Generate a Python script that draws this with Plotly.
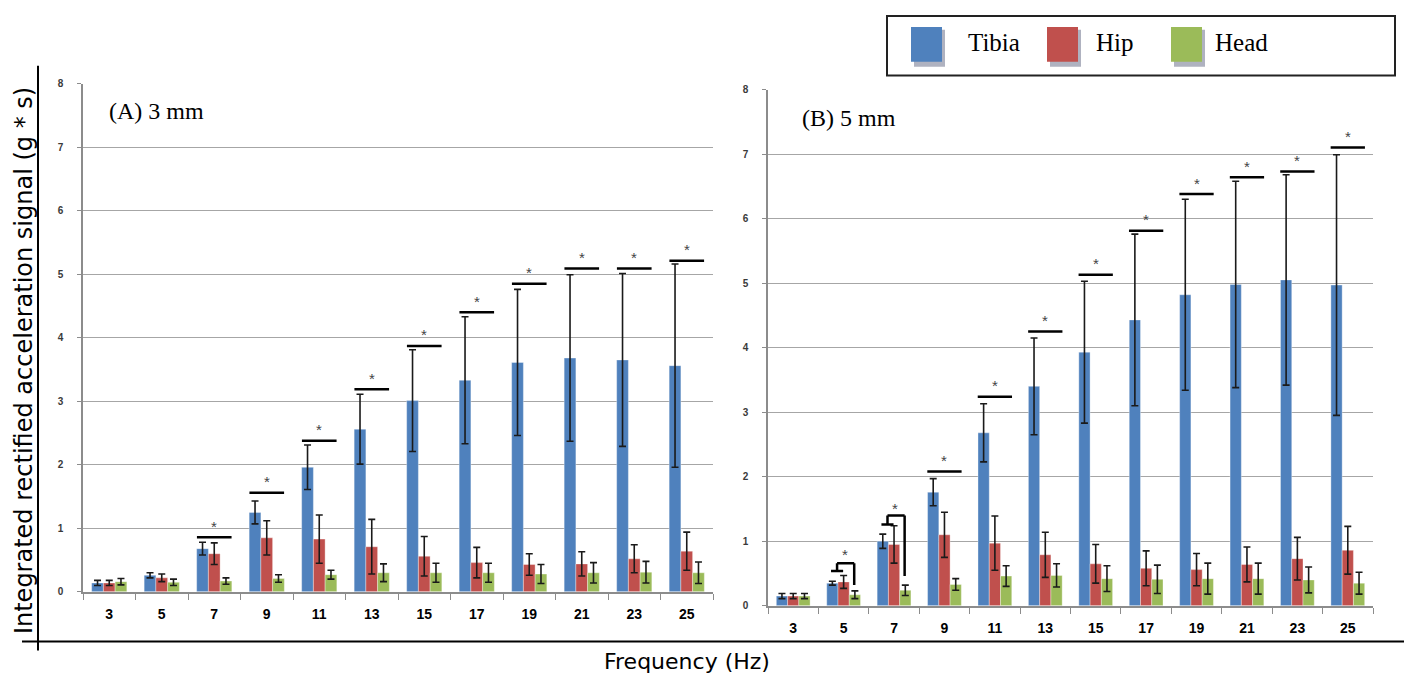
import plotly.graph_objects as go

W, H = 1411, 674
VS = 0.989  # vertical scale observed between the figure and the captured page

freqs = ["3", "5", "7", "9", "11", "13", "15", "17", "19", "21", "23", "25"]

# (A) 3 mm
a_tibia = [0.14, 0.26, 0.68, 1.25, 1.96, 2.56, 3.01, 3.33, 3.61, 3.68, 3.65, 3.56]
a_tibia_err = [0.04, 0.04, 0.10, 0.18, 0.35, 0.55, 0.80, 1.00, 1.15, 1.31, 1.36, 1.60]
a_hip = [0.14, 0.22, 0.60, 0.85, 0.83, 0.71, 0.56, 0.46, 0.43, 0.44, 0.52, 0.64]
a_hip_err = [0.04, 0.06, 0.17, 0.27, 0.38, 0.43, 0.31, 0.24, 0.17, 0.19, 0.22, 0.30]
a_head = [0.16, 0.15, 0.17, 0.21, 0.27, 0.30, 0.30, 0.30, 0.28, 0.30, 0.31, 0.30]
a_head_err = [0.05, 0.05, 0.05, 0.06, 0.07, 0.14, 0.15, 0.15, 0.15, 0.16, 0.17, 0.17]
a_sig_idx = [2, 3, 4, 5, 6, 7, 8, 9, 10, 11]
a_sig_y = [0.86, 1.56, 2.38, 3.19, 3.87, 4.40, 4.85, 5.09, 5.09, 5.21]

# (B) 5 mm
b_tibia = [0.15, 0.35, 1.00, 1.76, 2.68, 3.40, 3.93, 4.43, 4.82, 4.98, 5.05, 4.97]
b_tibia_err = [0.04, 0.03, 0.11, 0.21, 0.45, 0.75, 1.10, 1.33, 1.48, 1.60, 1.63, 2.02]
b_hip = [0.15, 0.37, 0.95, 1.10, 0.97, 0.79, 0.65, 0.58, 0.56, 0.64, 0.73, 0.86]
b_hip_err = [0.04, 0.10, 0.29, 0.35, 0.42, 0.35, 0.30, 0.27, 0.25, 0.27, 0.33, 0.37]
b_head = [0.15, 0.17, 0.24, 0.33, 0.46, 0.47, 0.42, 0.41, 0.42, 0.42, 0.40, 0.35]
b_head_err = [0.04, 0.06, 0.08, 0.09, 0.16, 0.18, 0.20, 0.22, 0.24, 0.24, 0.20, 0.17]
b_sig_idx = [3, 4, 5, 6, 7, 8, 9, 10, 11]
b_sig_y = [2.08, 3.24, 4.25, 5.13, 5.81, 6.38, 6.64, 6.73, 7.10]

series_names = ["Tibia", "Hip", "Head"]
colors = ["#4F81BD", "#C0504D", "#9BBB59"]


def px(x):
    return x / W


def py(y):
    return 1 - (y / VS) / H


fig = go.Figure()
panels = [
    ("x", "y", [a_tibia, a_hip, a_head], [a_tibia_err, a_hip_err, a_head_err]),
    ("x2", "y2", [b_tibia, b_hip, b_head], [b_tibia_err, b_hip_err, b_head_err]),
]
for xa, ya, vals, errs in panels:
    for name, col, v, e in zip(series_names, colors, vals, errs):
        fig.add_trace(go.Bar(
            x=freqs, y=v, name=name, xaxis=xa, yaxis=ya, showlegend=False,
            marker=dict(color=col, line=dict(color="rgba(255,255,255,0.35)", width=1)),
            error_y=dict(type="data", array=e, visible=True, color="#1a1a1a",
                         thickness=1.6, width=3.5),
        ))

shapes = []
annotations = []
black_line = dict(color="black", width=2.5)


def seg(xref, yref, x0, y0, x1, y1):
    shapes.append(dict(type="line", xref=xref, yref=yref, x0=x0, y0=y0, x1=x1, y1=y1,
                       line=black_line, layer="above"))


def star(xref, yref, x, y, shift=11):
    annotations.append(dict(xref=xref, yref=yref, x=x, y=y, text="*", showarrow=False,
                            yshift=shift, font=dict(family="Liberation Sans", size=15, color="#444")))


for i, yv in zip(a_sig_idx, a_sig_y):
    seg("x", "y", i - 0.33, yv, i + 0.33, yv)
    star("x", "y", i, yv)
for i, yv in zip(b_sig_idx, b_sig_y):
    seg("x2", "y2", i - 0.34, yv, i + 0.34, yv)
    star("x2", "y2", i, yv)

# brackets in (B) at 5 Hz and 7 Hz
for i, (ya, yb, yc, ys) in [(1, (0.54, 0.66, 0.32, 0.79)), (2, (1.26, 1.40, 0.46, 1.51))]:
    seg("x2", "y2", i - 0.25, ya, i - 0.01, ya)
    seg("x2", "y2", i - 0.13, ya, i - 0.13, yb)
    seg("x2", "y2", i - 0.13, yb, i + 0.21, yb)
    seg("x2", "y2", i + 0.21, yb, i + 0.21, yc)
    annotations.append(dict(xref="x2", yref="y2", x=i + 0.02, y=ys, text="*", showarrow=False,
                            font=dict(family="Liberation Sans", size=15, color="#444")))

# outer frame lines
shapes.append(dict(type="line", xref="paper", yref="paper", x0=px(38), x1=px(38),
                   y0=py(60), y1=py(648), line=dict(color="black", width=2)))
shapes.append(dict(type="line", xref="paper", yref="paper", x0=px(22), x1=px(1404),
                   y0=py(639), y1=py(639), line=dict(color="black", width=2)))

# legend box
shapes.append(dict(type="rect", xref="paper", yref="paper", x0=px(887), x1=px(1395),
                   y0=py(70), y1=py(10), line=dict(color="#222", width=2), fillcolor="white"))
leg_sq = [911, 1047, 1171]
leg_tx = [966, 1094, 1213]
for name, col, sx, tx in zip(series_names, colors, leg_sq, leg_tx):
    shapes.append(dict(type="rect", xref="paper", yref="paper", x0=px(sx + 3), x1=px(sx + 34),
                       y0=py(61), y1=py(24), line=dict(width=0), fillcolor="rgba(110,115,140,0.55)"))
    shapes.append(dict(type="rect", xref="paper", yref="paper", x0=px(sx), x1=px(sx + 31),
                       y0=py(56), y1=py(21), line=dict(width=0), fillcolor=col))
    annotations.append(dict(xref="paper", yref="paper", x=px(tx), y=py(37), xanchor="left",
                            yanchor="middle", text=name, showarrow=False,
                            font=dict(family="Liberation Serif", size=25, color="black")))

# panel labels
annotations.append(dict(xref="paper", yref="paper", x=px(107), y=py(106), xanchor="left",
                        yanchor="middle", text="(A) 3 mm", showarrow=False,
                        font=dict(family="Liberation Serif", size=24, color="black")))
annotations.append(dict(xref="paper", yref="paper", x=px(800), y=py(113), xanchor="left",
                        yanchor="middle", text="(B) 5 mm", showarrow=False,
                        font=dict(family="Liberation Serif", size=24, color="black")))
# axis titles
annotations.append(dict(xref="paper", yref="paper", x=px(687), y=py(659), xanchor="center",
                        yanchor="middle", text="Frequency (Hz)", showarrow=False,
                        font=dict(family="DejaVu Sans", size=22, color="black")))
annotations.append(dict(xref="paper", yref="paper", x=px(24), y=py(357), xanchor="center",
                        yanchor="middle", text="Integrated rectified acceleration signal (g * s)",
                        textangle=-90, showarrow=False,
                        font=dict(family="DejaVu Sans", size=24, color="black")))

xcommon = dict(type="category", showline=True, linecolor="#8c8c8c", linewidth=1.5,
               ticks="outside", tickson="boundaries", ticklen=6, tickcolor="#8c8c8c",
               showgrid=False, ticklabelstandoff=9,
               tickfont=dict(family="Liberation Sans", size=14, color="black", weight="bold"))
ycommon = dict(range=[0, 8], dtick=1, showline=True, linecolor="#8c8c8c", linewidth=1.5,
               ticks="outside", ticklen=4, tickcolor="#8c8c8c", showgrid=True,
               gridcolor="#a6a6a6", gridwidth=1, zeroline=False, ticklabelstandoff=12,
               tickfont=dict(family="Liberation Sans", size=10, color="#3a3a3a", weight="bold"))

fig.update_layout(
    width=W, height=H, autosize=False,
    margin=dict(l=0, r=0, t=0, b=0),
    paper_bgcolor="white", plot_bgcolor="white",
    barmode="group", bargap=0.33, bargroupgap=0,
    xaxis=dict(domain=[px(83), px(713)], anchor="y", **xcommon),
    yaxis=dict(domain=[py(589), py(78)], anchor="x", **ycommon),
    xaxis2=dict(domain=[px(768), px(1373)], anchor="y2", **xcommon),
    yaxis2=dict(domain=[py(603), py(84)], anchor="x2", **ycommon),
    shapes=shapes, annotations=annotations,
)

fig.write_html("out.html")
